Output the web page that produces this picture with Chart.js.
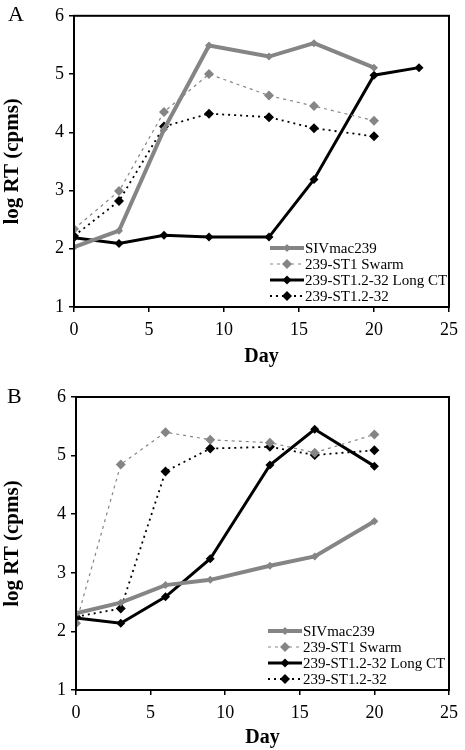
<!DOCTYPE html>
<html>
<head>
<meta charset="utf-8">
<script src="https://cdn.jsdelivr.net/npm/chart.js@4"></script>
<style>
  body { margin:0; background:#fff; }
  .panel { position:relative; width:465px; height:375px; }
</style>
</head>
<body>
<div class="panel"><canvas id="chartA" width="465" height="375"></canvas></div>
<div class="panel"><canvas id="chartB" width="465" height="375"></canvas></div>
<script>
// =============================
// DATA
// =============================
const seriesNames = ['SIVmac239', '239-ST1 Swarm', '239-ST1.2-32 Long CT', '239-ST1.2-32'];
const days = [0, 3, 6, 9, 13, 16, 20];
const daysLongA = [0, 3, 6, 9, 13, 16, 20, 23];
const xTicks = [0, 5, 10, 15, 20, 25];
const yTicks = [1, 2, 3, 4, 5, 6];

// panel A
const sivA     = [2.03, 2.31, 4.05, 5.49, 5.30, 5.53, 5.11];
const swarmA   = [2.34, 2.99, 4.35, 5.00, 4.63, 4.45, 4.20];
const longCtA  = [2.19, 2.09, 2.23, 2.20, 2.20, 3.19, 4.98, 5.11];
const st12A    = [2.22, 2.82, 4.10, 4.32, 4.26, 4.07, 3.93];

// panel B
const sivB     = [2.31, 2.49, 2.79, 2.88, 3.12, 3.28, 3.88];
const swarmB   = [2.14, 4.85, 5.40, 5.27, 5.22, 5.05, 5.36];
const longCtB  = [2.23, 2.14, 2.59, 3.24, 4.84, 5.45, 4.82];
const st12B    = [2.25, 2.39, 4.73, 5.12, 5.15, 5.01, 5.09];

// =============================
// HELPERS
// =============================
const GRAY = '#858585';
const serif = "'Liberation Serif', 'Times New Roman', serif";

function pts(xs, ys){
    return ys.map((y, i) => ({ x: xs[i], y: y }));
}

function buildDatasets(siv, swarm, longCt, longDays, st12){
    return [
        { label: seriesNames[0], data: pts(days, siv), borderColor: GRAY, backgroundColor: GRAY,
          borderWidth: 4, pointStyle: 'rectRot', pointRadius: 4, pointBorderWidth: 0 },
        { label: seriesNames[1], data: pts(days, swarm), borderColor: GRAY, backgroundColor: GRAY,
          borderWidth: 1.2, borderDash: [3, 4], pointStyle: 'rectRot', pointRadius: 5, pointBorderWidth: 0 },
        { label: seriesNames[2], data: pts(longDays, longCt), borderColor: '#000', backgroundColor: '#000',
          borderWidth: 3, pointStyle: 'rectRot', pointRadius: 4.5, pointBorderWidth: 0 },
        { label: seriesNames[3], data: pts(days, st12), borderColor: '#000', backgroundColor: '#000',
          borderWidth: 1.8, borderDash: [2, 4], pointStyle: 'rectRot', pointRadius: 5, pointBorderWidth: 0 }
    ];
}

// frame + panel letter + in-plot legend
const decorPlugin = {
    id: 'decor',
    afterDraw(chart, args, opts){
        const ctx = chart.ctx;
        const a = chart.chartArea;
        ctx.save();
        ctx.strokeStyle = '#000';
        ctx.lineWidth = 2;
        ctx.strokeRect(a.left, a.top, a.right - a.left, a.bottom - a.top);

        ctx.fillStyle = '#000';
        ctx.font = '22px ' + serif;
        ctx.textBaseline = 'alphabetic';
        ctx.fillText(opts.letter, opts.letterX, opts.letterY);

        // legend
        ctx.font = '15px ' + serif;
        ctx.textBaseline = 'middle';
        chart.data.datasets.forEach((ds, i) => {
            const y = a.bottom - opts.legendBottom + i * 16;
            const x0 = opts.legendX, x1 = x0 + 34;
            ctx.strokeStyle = ds.borderColor;
            ctx.lineWidth = ds.borderWidth;
            ctx.setLineDash(ds.borderDash || []);
            ctx.beginPath();
            ctx.moveTo(x0, y);
            ctx.lineTo(x1, y);
            ctx.stroke();
            ctx.setLineDash([]);
            const r = ds.pointRadius;
            const cx = (x0 + x1) / 2;
            ctx.fillStyle = ds.backgroundColor;
            ctx.beginPath();
            ctx.moveTo(cx, y - r);
            ctx.lineTo(cx + r, y);
            ctx.lineTo(cx, y + r);
            ctx.lineTo(cx - r, y);
            ctx.closePath();
            ctx.fill();
            ctx.fillStyle = '#000';
            ctx.fillText(ds.label, x1 + 1, y + 1);
        });
        ctx.restore();
    }
};

function makeChart(id, datasets, layout){
    new Chart(document.getElementById(id), {
        type: 'line',
        data: { datasets: datasets },
        plugins: [decorPlugin],
        options: {
            responsive: false,
            animation: false,
            layout: { padding: { top: layout.top, right: 14, left: 0, bottom: 0 } },
            plugins: {
                legend: { display: false },
                tooltip: { enabled: false },
                decor: { letter: layout.letter, letterX: layout.letterX, letterY: layout.letterY,
                         legendX: layout.legendX, legendBottom: 59 }
            },
            scales: {
                x: {
                    type: 'linear', min: 0, max: 25,
                    afterBuildTicks: s => { s.ticks = xTicks.map(v => ({ value: v })); },
                    afterFit: s => { s.height = layout.xHeight; },
                    grid: { drawOnChartArea: false, tickLength: 5, color: '#000', lineWidth: 1.5 },
                    border: { color: '#000', width: 2 },
                    ticks: { color: '#000', font: { family: serif, size: 18 }, padding: 7 },
                    title: { display: true, text: 'Day', color: '#000',
                             font: { family: serif, size: 20, weight: 'bold' },
                             padding: { top: 0, bottom: layout.titlePad } }
                },
                y: {
                    type: 'linear', min: 1, max: 6,
                    afterBuildTicks: s => { s.ticks = yTicks.map(v => ({ value: v })); },
                    afterFit: s => { s.width = layout.left; },
                    grid: { drawOnChartArea: false, tickLength: 5, color: '#000', lineWidth: 1.5 },
                    border: { color: '#000', width: 2 },
                    ticks: { color: '#000', font: { family: serif, size: 18 }, padding: 5 },
                    title: { display: true, text: 'log RT (cpms)', color: '#000',
                             font: { family: serif, size: 21, weight: 'bold' }, padding: { top: 0, bottom: 14 } }
                }
            }
        }
    });
}

// =============================
// CHARTS
// =============================
makeChart('chartA', buildDatasets(sivA, swarmA, longCtA, daysLongA, st12A),
    { letter: 'A', letterX: 8, letterY: 21, top: 13, left: 74, xHeight: 68, titlePad: 6, legendX: 270 });
makeChart('chartB', buildDatasets(sivB, swarmB, longCtB, days, st12B),
    { letter: 'B', letterX: 7, letterY: 28, top: 22, left: 76, xHeight: 60, titlePad: 0, legendX: 268 });
</script>
</body>
</html>
